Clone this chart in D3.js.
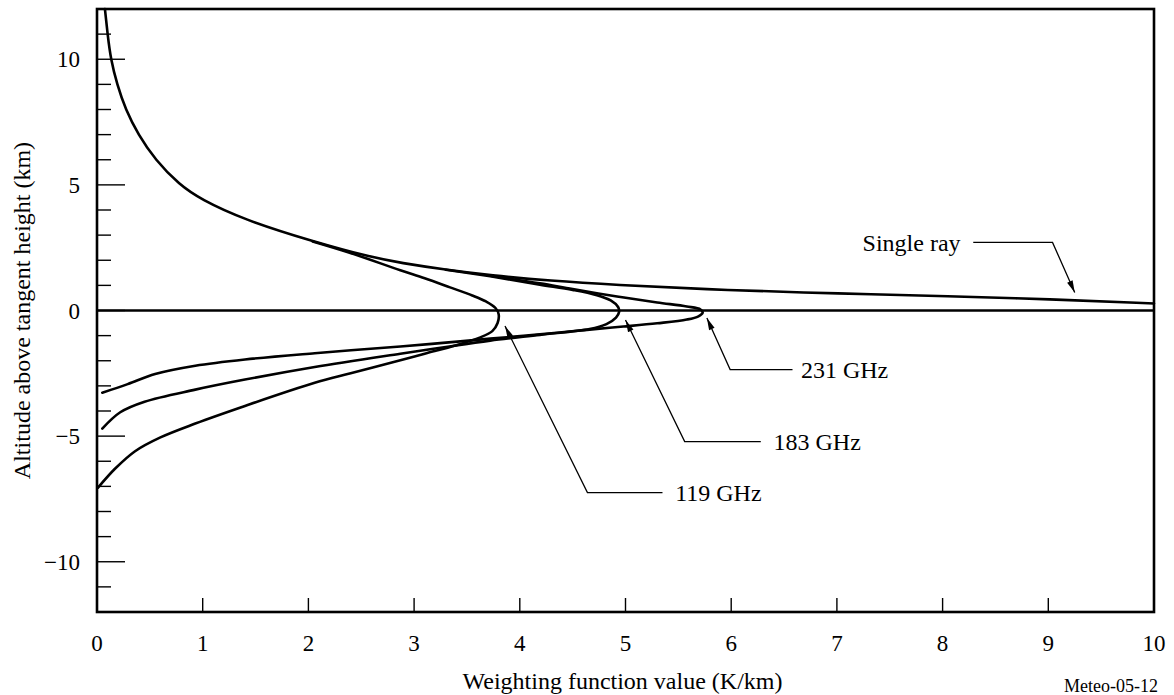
<!DOCTYPE html>
<html>
<head>
<meta charset="utf-8">
<script src="https://cdn.jsdelivr.net/npm/d3@7"></script>
<style>
  html, body { margin: 0; padding: 0; background: #fff; }
  svg { display: block; }
  text { font-family: "Liberation Serif", "Times New Roman", serif; fill: #000; }
</style>
</head>
<body>
<svg id="chart" width="1174" height="695"></svg>
<script>
// ---- Data (weighting function value K/km, altitude km) ----
const xTicks = [0, 1, 2, 3, 4, 5, 6, 7, 8, 9, 10];
const yMajorTicks = [-10, -5, 0, 5, 10];
const yMinorTicks = [-11, -9, -8, -7, -6, -4, -3, -2, -1, 1, 2, 3, 4, 6, 7, 8, 9, 11];

const singleRay = [
  [0.075, 12], [0.1, 11], [0.13, 10], [0.19, 9], [0.27, 8], [0.39, 7], [0.55, 6], [0.78, 5.0],
  [0.98, 4.43], [1.38, 3.63], [2.04, 2.75], [2.61, 2.1], [2.87, 1.9], [3.3, 1.62],
  [3.72, 1.4], [4.3, 1.18], [4.85, 1.03], [5.99, 0.8], [7.0, 0.68], [8.07, 0.57],
  [9.0, 0.45], [10.0, 0.28]
];

const ghz119 = [
  [2.04, 2.75], [2.39, 2.3], [2.87, 1.6], [3.1, 1.28], [3.34, 0.92], [3.55, 0.6],
  [3.68, 0.36], [3.77, 0.1], [3.80, -0.15], [3.79, -0.5], [3.74, -0.82], [3.62, -1.08],
  [3.4, -1.38], [3.1, -1.72], [2.87, -1.98], [2.4, -2.5], [2.06, -2.88], [1.4, -3.8],
  [0.93, -4.5], [0.6, -5.05], [0.36, -5.6], [0.17, -6.3], [0.01, -7.05]
];

const ghz183 = [
  [3.3, 1.62], [3.72, 1.36], [4.19, 1.03], [4.5, 0.82], [4.72, 0.62], [4.86, 0.4],
  [4.93, 0.14], [4.94, -0.05], [4.91, -0.28], [4.82, -0.54], [4.66, -0.74], [4.19, -0.97],
  [3.72, -1.2], [3.3, -1.45], [2.87, -1.72], [2.06, -2.25], [1.4, -2.75], [0.93, -3.15],
  [0.45, -3.63], [0.22, -4.05], [0.05, -4.7]
];

const ghz231 = [
  [3.72, 1.38], [4.19, 1.08], [4.5, 0.85], [4.92, 0.56], [5.3, 0.32], [5.58, 0.16],
  [5.71, 0.04], [5.73, -0.08], [5.69, -0.23], [5.58, -0.36], [5.3, -0.51], [4.98, -0.64],
  [4.66, -0.76], [4.19, -0.95], [3.72, -1.12], [3.3, -1.28], [2.87, -1.43], [2.06, -1.7],
  [1.4, -1.95], [0.93, -2.2], [0.55, -2.53], [0.29, -2.93], [0.05, -3.27]
];

// annotations: label, arrow tip, elbow, line end, text position (data units)
const annotations = [
  { label: "Single ray", tip: [9.25, 0.72], elbow: [9.04, 2.71], end: [8.29, 2.71], text: [8.17, 2.71], anchor: "end" },
  { label: "231 GHz", tip: [5.77, -0.3], elbow: [5.99, -2.35], end: [6.58, -2.35], text: [6.66, -2.35], anchor: "start" },
  { label: "183 GHz", tip: [5.0, -0.38], elbow: [5.56, -5.22], end: [6.28, -5.22], text: [6.40, -5.22], anchor: "start" },
  { label: "119 GHz", tip: [3.86, -0.62], elbow: [4.64, -7.25], end: [5.35, -7.25], text: [5.47, -7.25], anchor: "start" }
];

// ---- Layout ----
const margin = { left: 97, top: 9, right: 20, bottom: 83 };
const W = 1174, H = 695;
const innerW = W - margin.left - margin.right;   // 1057
const innerH = H - margin.top - margin.bottom;   // 603

const svg = d3.select("#chart");
const g = svg.append("g").attr("transform", `translate(${margin.left},${margin.top})`);

const x = d3.scaleLinear().domain([0, 10]).range([0, innerW]);
const y = d3.scaleLinear().domain([-12, 12]).range([innerH, 0]);

// arrow marker
svg.append("defs").append("marker")
  .attr("id", "arrow")
  .attr("viewBox", "0 0 12 10")
  .attr("refX", 12).attr("refY", 5)
  .attr("markerWidth", 13).attr("markerHeight", 10)
  .attr("markerUnits", "userSpaceOnUse")
  .attr("orient", "auto")
  .append("path").attr("d", "M0,2 L12,5 L0,8 Z").attr("fill", "#000");

// ---- Y ticks (inward) ----
g.selectAll(".ymaj").data(yMajorTicks).enter().append("line")
  .attr("x1", 0).attr("x2", 28)
  .attr("y1", d => y(d)).attr("y2", d => y(d))
  .attr("stroke", "#000").attr("stroke-width", 1.4);
g.selectAll(".ymin").data(yMinorTicks).enter().append("line")
  .attr("x1", 0).attr("x2", 14)
  .attr("y1", d => y(d)).attr("y2", d => y(d))
  .attr("stroke", "#000").attr("stroke-width", 1.4);
g.selectAll(".ylab").data(yMajorTicks).enter().append("text")
  .attr("x", -17).attr("y", d => y(d)).attr("dy", "0.35em")
  .attr("text-anchor", "end").attr("font-size", 23)
  .text(d => d < 0 ? "\u2212" + Math.abs(d) : d);

// ---- X ticks (inward) ----
g.selectAll(".xt").data(xTicks.filter(d => d > 0 && d < 10)).enter().append("line")
  .attr("x1", d => x(d)).attr("x2", d => x(d))
  .attr("y1", innerH).attr("y2", innerH - 14)
  .attr("stroke", "#000").attr("stroke-width", 1.4);
g.selectAll(".xlab").data(xTicks).enter().append("text")
  .attr("x", d => x(d)).attr("y", innerH + 31).attr("dy", "0.35em")
  .attr("text-anchor", "middle").attr("font-size", 23)
  .text(d => d);

// ---- zero line ----
g.append("line")
  .attr("x1", x(0)).attr("x2", x(10)).attr("y1", y(0)).attr("y2", y(0))
  .attr("stroke", "#000").attr("stroke-width", 2.6);

// ---- curves ----
const rayLine = d3.line()
  .x(d => x(d[0])).y(d => y(d[1]))
  .curve(d3.curveBasis);
const loopLine = d3.line()
  .x(d => x(d[0])).y(d => y(d[1]))
  .curve(d3.curveCatmullRom.alpha(0.5));

g.append("path").datum(singleRay)
  .attr("d", rayLine)
  .attr("fill", "none").attr("stroke", "#000")
  .attr("stroke-width", 2.6).attr("stroke-linecap", "round");

[ghz119, ghz183, ghz231].forEach(data => {
  g.append("path").datum(data)
    .attr("d", loopLine)
    .attr("fill", "none").attr("stroke", "#000")
    .attr("stroke-width", 2.6).attr("stroke-linejoin", "round").attr("stroke-linecap", "round");
});

// ---- frame ----
g.append("rect")
  .attr("x", 0).attr("y", 0).attr("width", innerW).attr("height", innerH)
  .attr("fill", "none").attr("stroke", "#000").attr("stroke-width", 2.6);

// ---- annotations ----
annotations.forEach(a => {
  g.append("polyline")
    .attr("points", [a.end, a.elbow, a.tip].map(p => `${x(p[0])},${y(p[1])}`).join(" "))
    .attr("fill", "none").attr("stroke", "#000").attr("stroke-width", 1.3)
    .attr("marker-end", "url(#arrow)");
  g.append("text")
    .attr("x", x(a.text[0])).attr("y", y(a.text[1])).attr("dy", "0.35em")
    .attr("text-anchor", a.anchor).attr("font-size", 24)
    .text(a.label);
});

// ---- axis titles ----
svg.append("text")
  .attr("x", margin.left + innerW / 2 - 3).attr("y", 681).attr("dy", "0.35em")
  .attr("text-anchor", "middle").attr("font-size", 24)
  .text("Weighting function value (K/km)");

svg.append("text")
  .attr("transform", `translate(22,${margin.top + y(0)}) rotate(-90)`)
  .attr("text-anchor", "middle").attr("dy", "0.35em").attr("font-size", 24)
  .text("Altitude above tangent height (km)");

svg.append("text")
  .attr("x", 1158).attr("y", 686).attr("dy", "0.35em")
  .attr("text-anchor", "end").attr("font-size", 18)
  .text("Meteo-05-12");
</script>
</body>
</html>
